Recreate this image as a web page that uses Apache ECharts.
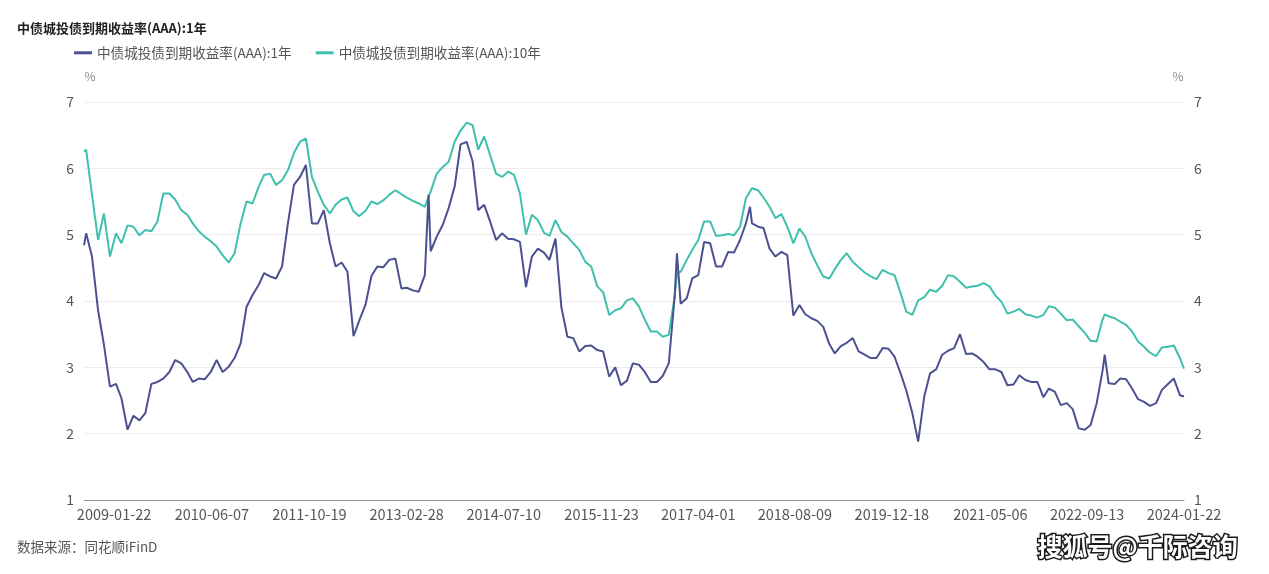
<!DOCTYPE html>
<html>
<head>
<meta charset="utf-8">
<script src="https://cdn.jsdelivr.net/npm/echarts@6/dist/echarts.min.js"></script>
<style>
html,body{margin:0;padding:0;background:#fff;}
#chart{width:1269px;height:574px;}
</style>
</head>
<body>
<div id="chart"></div>
<script>
const titleText = '中债城投债到期收益率(AAA):1年';
const seriesNames = ['中债城投债到期收益率(AAA):1年', '中债城投债到期收益率(AAA):10年'];
const tickDates = ['2009-01-22','2010-06-07','2011-10-19','2013-02-28','2014-07-10','2015-11-23','2017-04-01','2018-08-09','2019-12-18','2021-05-06','2022-09-13','2024-01-22'];
const yTicks = [1, 7, 1]; // min, max, step

const dates = [
'2008-08-21','2008-09','2008-10','2008-11','2008-12',
'2009-01','2009-02','2009-03','2009-04','2009-05','2009-06','2009-07','2009-08','2009-09','2009-10','2009-11','2009-12',
'2010-01','2010-02','2010-03','2010-04','2010-05','2010-06','2010-07','2010-08','2010-09','2010-10','2010-11','2010-12',
'2011-01','2011-02','2011-03','2011-04','2011-05','2011-06','2011-07','2011-08','2011-09','2011-10','2011-11','2011-12',
'2012-01','2012-02','2012-03','2012-04','2012-05','2012-06','2012-07','2012-08','2012-09','2012-10','2012-11','2012-12',
'2013-01','2013-02','2013-03','2013-04','2013-05','2013-06','2013-06-20','2013-07','2013-08','2013-09','2013-10','2013-11','2013-12',
'2014-01','2014-02','2014-03','2014-04','2014-05','2014-06','2014-07','2014-08','2014-09','2014-10','2014-11','2014-12',
'2015-01','2015-02','2015-03','2015-04','2015-05','2015-06','2015-07','2015-08','2015-09','2015-10','2015-11','2015-12',
'2016-01','2016-02','2016-03','2016-04','2016-05','2016-06','2016-07','2016-08','2016-09','2016-10','2016-11','2016-12','2016-12-13',
'2017-01','2017-02','2017-03','2017-04','2017-05','2017-06','2017-07','2017-08','2017-09','2017-10','2017-11','2017-12','2017-12-22',
'2018-01','2018-02','2018-03','2018-04','2018-05','2018-06','2018-07','2018-08','2018-09','2018-10','2018-11','2018-12',
'2019-01','2019-02','2019-03','2019-04','2019-05','2019-06','2019-07','2019-08','2019-09','2019-10','2019-11','2019-12',
'2020-01','2020-02','2020-03','2020-04','2020-05','2020-06','2020-07','2020-08','2020-09','2020-10','2020-11','2020-12',
'2021-01','2021-02','2021-03','2021-04','2021-05','2021-06','2021-07','2021-08','2021-09','2021-10','2021-11','2021-12',
'2022-01','2022-02','2022-03','2022-04','2022-05','2022-06','2022-07','2022-08','2022-09','2022-10','2022-11','2022-12','2022-12-12',
'2023-01','2023-02','2023-03','2023-04','2023-05','2023-06','2023-07','2023-08','2023-09','2023-10','2023-11','2023-12',
'2024-01','2024-01-22'
];

const yield1Y = [
4.84,5.02,4.67,3.86,3.34,
2.71,2.75,2.53,2.06,2.27,2.20,2.31,2.75,2.78,2.83,2.93,3.11,
3.06,2.93,2.78,2.83,2.82,2.93,3.11,2.93,3.01,3.14,3.36,3.91,
4.09,4.24,4.42,4.37,4.34,4.52,5.17,5.75,5.87,6.05,5.17,5.17,
5.37,4.87,4.52,4.58,4.44,3.47,3.71,3.94,4.38,4.52,4.51,4.62,
4.64,4.19,4.20,4.16,4.14,4.39,5.60,4.75,4.97,5.15,5.40,5.73,6.36,
6.40,6.10,5.37,5.45,5.20,4.92,5.02,4.94,4.93,4.89,4.21,4.67,
4.79,4.73,4.62,4.94,3.91,3.46,3.44,3.24,3.32,3.33,3.26,3.24,
2.86,3.00,2.73,2.80,3.06,3.04,2.93,2.78,2.78,2.87,3.06,4.06,4.72,
3.96,4.04,4.34,4.39,4.89,4.87,4.52,4.52,4.74,4.73,4.92,5.17,5.42,
5.17,5.12,5.10,4.79,4.67,4.74,4.69,3.78,3.94,3.80,3.74,3.70,
3.61,3.35,3.21,3.32,3.37,3.44,3.24,3.19,3.14,3.14,3.29,3.28,
3.16,2.91,2.65,2.31,1.88,2.56,2.91,2.97,3.19,3.25,3.29,3.50,
3.20,3.21,3.16,3.08,2.97,2.97,2.93,2.73,2.74,2.88,2.81,2.78,
2.78,2.55,2.68,2.63,2.43,2.46,2.37,2.08,2.06,2.13,2.46,2.95,3.19,
2.76,2.75,2.83,2.82,2.68,2.52,2.48,2.42,2.46,2.66,2.75,2.83,
2.58,2.56
];

const yield10Y = [
6.25,6.28,5.60,4.92,5.32,
4.67,5.02,4.87,5.14,5.12,4.99,5.07,5.05,5.20,5.62,5.62,5.53,
5.37,5.30,5.17,5.05,4.97,4.90,4.82,4.69,4.58,4.72,5.17,5.50,
5.47,5.72,5.90,5.92,5.75,5.82,5.97,6.23,6.40,6.45,5.87,5.65,
5.45,5.32,5.45,5.53,5.56,5.35,5.28,5.36,5.50,5.46,5.52,5.60,
5.67,5.61,5.56,5.51,5.47,5.42,5.57,5.65,5.92,6.02,6.10,6.40,6.57,
6.69,6.65,6.28,6.48,6.20,5.92,5.87,5.95,5.90,5.62,5.00,5.30,
5.22,5.03,4.98,5.22,5.04,4.97,4.87,4.77,4.59,4.52,4.22,4.13,
3.79,3.86,3.89,4.01,4.04,3.92,3.72,3.54,3.54,3.46,3.49,4.06,4.42,
4.44,4.62,4.77,4.92,5.20,5.20,4.98,4.99,5.01,4.99,5.12,5.55,5.65,
5.70,5.67,5.56,5.42,5.25,5.31,5.12,4.87,5.09,4.97,4.72,4.54,
4.37,4.34,4.48,4.62,4.72,4.59,4.51,4.43,4.37,4.33,4.47,4.42,
4.39,4.12,3.84,3.79,4.01,4.06,4.17,4.14,4.23,4.39,4.37,4.29,
4.20,4.22,4.23,4.27,4.22,4.08,3.99,3.81,3.84,3.88,3.80,3.78,
3.75,3.79,3.92,3.90,3.81,3.71,3.72,3.62,3.52,3.40,3.39,3.72,3.80,
3.77,3.74,3.69,3.64,3.54,3.39,3.31,3.22,3.17,3.30,3.31,3.33,
3.14,2.98
];

const colors = ['#4b5190', '#3fbfad'];
const font = '"Noto Sans CJK SC", "Microsoft YaHei", sans-serif';

// parse 'YYYY-MM' or 'YYYY-MM-DD' as UTC milliseconds
function toMs(s) {
  const p = s.split('-').map(Number);
  return Date.UTC(p[0], p[1] - 1, p[2] || 1);
}
function fmtDate(v) {
  const d = new Date(v);
  const p = n => (n < 10 ? '0' : '') + n;
  return d.getUTCFullYear() + '-' + p(d.getUTCMonth() + 1) + '-' + p(d.getUTCDate());
}

const chart = echarts.init(document.getElementById('chart'), null, {renderer: 'canvas'});

const d1 = dates.map((d, i) => [toMs(d), yield1Y[i]]);
const d2 = dates.map((d, i) => [toMs(d), yield10Y[i]]);
const tickMs = tickDates.map(toMs);

const yAxisBase = {
  type: 'value',
  min: yTicks[0], max: yTicks[1], interval: yTicks[2],
  name: '%',
  nameLocation: 'end',
  nameGap: 20,
  axisLine: {show: false},
  axisTick: {show: false},
  axisLabel: {color: '#555', fontSize: 14, fontFamily: font, margin: 10},
};

chart.setOption({
  backgroundColor: '#fff',
  animation: false,
  color: colors,
  textStyle: {fontFamily: font},
  title: {
    text: titleText,
    left: 12, top: 17,
    textStyle: {fontSize: 13, fontWeight: 'bold', color: '#222', fontFamily: font}
  },
  legend: {
    left: 69, top: 41,
    icon: 'rect',
    itemWidth: 18, itemHeight: 3,
    itemGap: 24,
    textStyle: {color: '#555', fontSize: 13.6, fontFamily: font},
    data: seriesNames
  },
  grid: {left: 84, right: 85, top: 102, bottom: 74, containLabel: false},
  xAxis: {
    type: 'value',
    min: toMs(dates[0]),
    max: toMs(dates[dates.length - 1]),
    axisLine: {show: true, onZero: false, lineStyle: {color: '#999', width: 1}},
    axisTick: {show: false},
    splitLine: {show: false},
    axisLabel: {
      color: '#555', fontSize: 14.5, fontFamily: font, margin: 7,
      customValues: tickMs,
      formatter: v => fmtDate(v),
      hideOverlap: false,
      showMinLabel: true, showMaxLabel: true
    }
  },
  yAxis: [
    Object.assign({}, yAxisBase, {
      position: 'left',
      nameTextStyle: {color: '#888', fontSize: 12, fontFamily: font, padding: [0, 0, 0, 12]},
      splitLine: {show: true, lineStyle: {color: '#ececec', width: 1}}
    }),
    Object.assign({}, yAxisBase, {
      position: 'right',
      nameTextStyle: {color: '#888', fontSize: 12, fontFamily: font, padding: [0, 12, 0, 0]},
      splitLine: {show: false}
    })
  ],
  series: [
    {
      name: seriesNames[0], type: 'line', data: d1, yAxisIndex: 0,
      showSymbol: false, symbol: 'none',
      lineStyle: {width: 2, color: colors[0]}, z: 3
    },
    {
      name: seriesNames[1], type: 'line', data: d2, yAxisIndex: 0,
      showSymbol: false, symbol: 'none',
      lineStyle: {width: 2, color: colors[1]}, z: 2
    }
  ],
  graphic: [
    {
      type: 'text', left: 17, top: 540,
      style: {text: '数据来源：同花顺iFinD', fill: '#555', fontSize: 13.5, fontFamily: font}
    },
    {
      type: 'text', left: 1036, top: 532,
      style: {
        text: '搜狐号@千际咨询', fill: '#fff', stroke: '#1a1a1a', lineWidth: 3,
        fontSize: 25, fontWeight: 'bold', fontFamily: font
      }
    }
  ]
});
</script>
</body>
</html>
